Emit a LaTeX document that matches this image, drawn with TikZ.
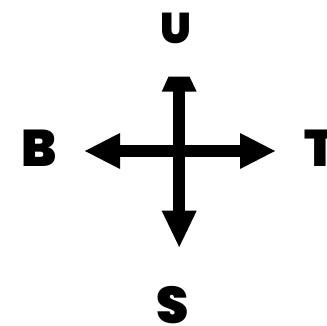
\documentclass[tikz,border=0pt]{standalone}
\usepackage{fontspec}
\newfontfamily\pb{Poppins}[UprightFont={* Black}]
\begin{document}
\begin{tikzpicture}[x=1pt,y=-1pt,
  lbl/.style={inner sep=0pt,font=\pb\fontsize{51.6}{52}\selectfont},
  arr/.style={fill=black,draw=none}]
\useasboundingbox (0,0) rectangle (327,326);
% shafts
\fill[arr] (173,85) rectangle (185,215);
\fill[arr] (110,145) rectangle (250,157);
% heads
\fill[arr] (168.5,76.7) -- (189.5,76.7) -- (196.7,91.7) -- (161.7,91.7) -- cycle;
\fill[arr] (161.7,210.7) -- (196.7,210.7) -- (179.2,247) -- cycle;
\fill[arr] (85,151) -- (120,133) -- (120,169) -- cycle;
\fill[arr] (275,151) -- (240,133) -- (240,169) -- cycle;
% labels
\node[lbl,font=\pb\fontsize{43}{44}\selectfont] (u) at (176,28.3) {U};
\node[lbl] (b) at (39.5,148.7) {B};
\node[lbl] (t) at (320,148.7) {T};
\node[lbl] (s) at (173,305) {S};
\end{tikzpicture}
\end{document}
